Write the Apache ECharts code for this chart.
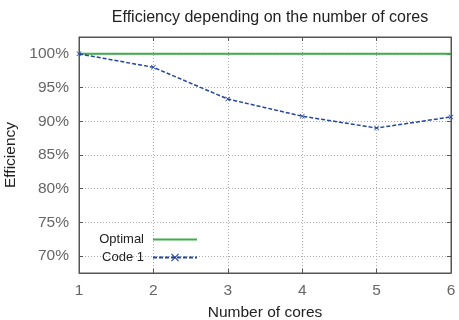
<!DOCTYPE html>
<html><head><meta charset="utf-8">
<script src="https://cdn.jsdelivr.net/npm/echarts@6/dist/echarts.min.js"></script>
<style>html,body{margin:0;padding:0;background:#fff}#c{width:459px;height:320px}</style>
</head><body><div id="c"></div>
<script>
const cores = [1, 2, 3, 4, 5, 6];
const optimal = [100, 100, 100, 100, 100, 100];
const code1 = [100, 98.0, 93.3, 90.75, 89.0, 90.65];
const yTicks = [70, 75, 80, 85, 90, 95, 100];

const FONT = 'Liberation Sans';
const crossPath = 'path://M0,1L1,0L5,4L9,0L10,1L6,5L10,9L9,10L5,6L1,10L0,9L4,5Z';
const green = '#3fae49';
const blue = '#2546a0';

const chart = echarts.init(document.getElementById('c'), null, {renderer: 'canvas'});
const optData = cores.map((c, i) => [c, optimal[i]]);
const c1Data = cores.map((c, i) => [c, code1[i]]);

chart.setOption({
  animation: false,
  textStyle: {fontFamily: FONT},
  title: {
    text: 'Efficiency depending on the number of cores',
    left: 265, top: 5, textAlign: 'center',
    textStyle: {fontFamily: FONT, fontSize: 16, fontWeight: 'normal', color: '#222'}
  },
  grid: {left: 79, right: 8, top: 37, bottom: 47, show: true, borderColor: '#555', borderWidth: 1,
         outerBoundsMode: 'none', containLabel: false},
  legend: [
    {data: [{name: 'Optimal', itemStyle: {opacity: 0}}], orient: 'vertical', align: 'right', right: 261, top: 233,
     padding: 0, itemWidth: 44, itemHeight: 10, itemGap: 4,
     textStyle: {fontFamily: FONT, fontSize: 13, color: '#222', padding: [0, 4, 0, 0]}},
    {data: [{name: 'Code 1'}], orient: 'vertical', align: 'right', right: 261, top: 251,
     padding: 0, itemWidth: 44, itemHeight: 10, itemGap: 4,
     textStyle: {fontFamily: FONT, fontSize: 13, color: '#222', padding: [0, 4, 0, 0]}}
  ],
  xAxis: [
    {type: 'value', min: 1, max: 6, interval: 1, position: 'bottom',
     name: 'Number of cores', nameLocation: 'middle', nameGap: 32,
     nameTextStyle: {fontFamily: FONT, fontSize: 15.5, color: '#222'},
     axisLine: {show: true, lineStyle: {color: '#555'}},
     axisTick: {show: true, inside: true, length: 4, lineStyle: {color: '#555'}},
     axisLabel: {margin: 10, fontSize: 15.5, color: '#666', fontFamily: FONT},
     splitLine: {show: true, lineStyle: {color: '#aaa', type: [1, 2]}}},
    {type: 'value', min: 1, max: 6, interval: 1, position: 'top',
     axisLine: {show: true, lineStyle: {color: '#555'}},
     axisTick: {show: true, inside: true, length: 4, lineStyle: {color: '#555'}},
     axisLabel: {show: false}, splitLine: {show: false}}
  ],
  yAxis: [
    {type: 'value', min: 67.5, max: 102.5, position: 'left',
     name: 'Efficiency', nameLocation: 'middle', nameGap: 58, nameRotate: 90,
     nameTextStyle: {fontFamily: FONT, fontSize: 15.5, color: '#222'},
     axisLine: {show: true, lineStyle: {color: '#555'}},
     axisTick: {show: true, inside: true, length: 4, customValues: yTicks, lineStyle: {color: '#555'}},
     axisLabel: {margin: 10, fontSize: 15.5, color: '#666', fontFamily: FONT, customValues: yTicks,
                 formatter: v => Math.round(v) + '%'},
     splitLine: {show: true, lineStyle: {color: '#aaa', type: [1, 2]}}},
    {type: 'value', min: 67.5, max: 102.5, position: 'right',
     axisLine: {show: true, lineStyle: {color: '#555'}},
     axisTick: {show: true, inside: true, length: 4, customValues: yTicks, lineStyle: {color: '#555'}},
     axisLabel: {show: false}, splitLine: {show: false}}
  ],
  series: [
    {name: 'Optimal', type: 'line', data: optData, showSymbol: false, symbol: 'none',
     lineStyle: {color: green, width: 2}, itemStyle: {color: green}},
    {name: 'Code 1', type: 'line', data: c1Data, symbol: crossPath, symbolSize: 5,
     lineStyle: {color: blue, width: 1.5, type: [4, 2]}, itemStyle: {color: blue}}
  ]
});
</script>
</body></html>
